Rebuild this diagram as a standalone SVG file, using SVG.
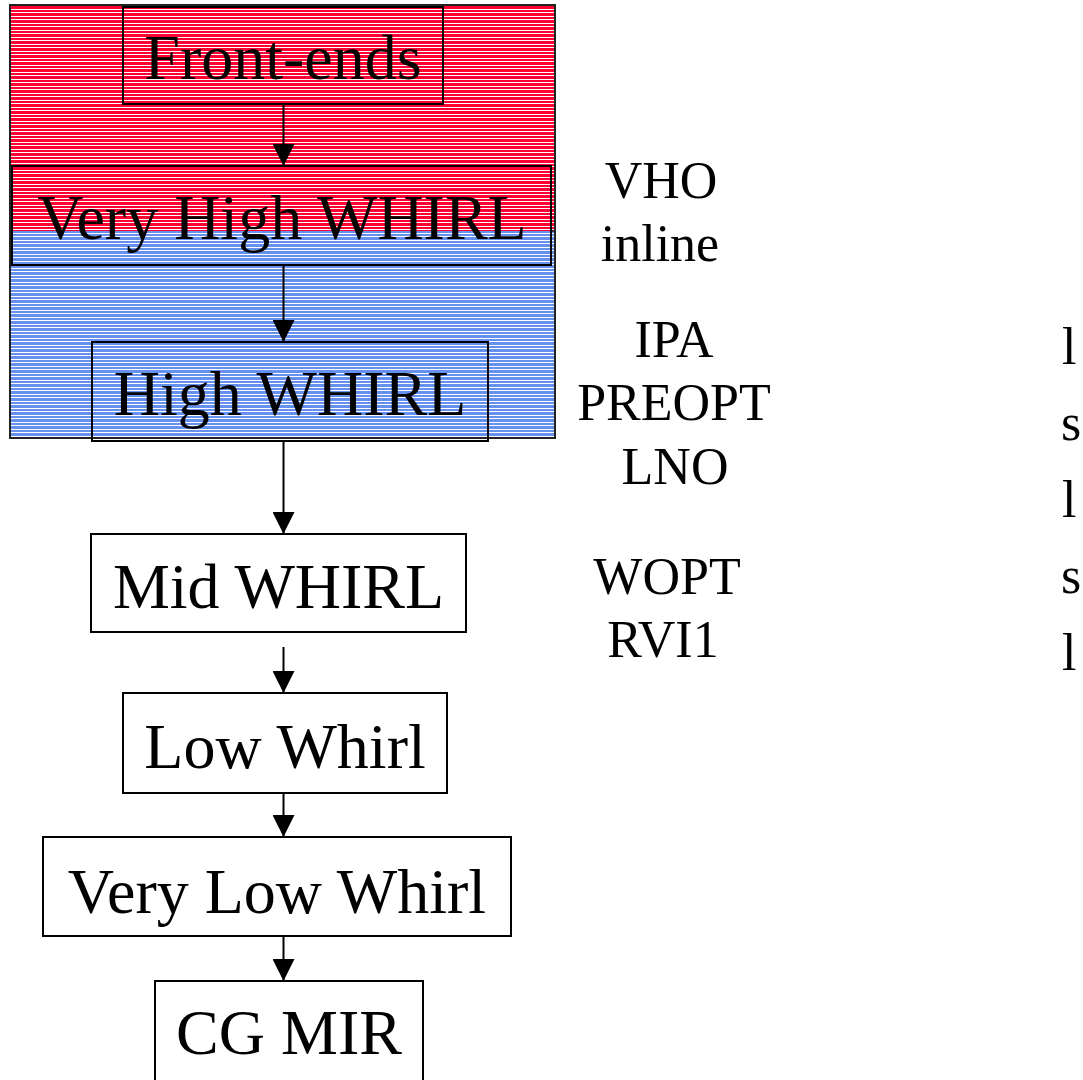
<svg xmlns="http://www.w3.org/2000/svg" width="1083" height="1080" viewBox="0 0 1083 1080">
<style>
.box{fill:none;stroke:#000;stroke-width:2}
.lbl{font-family:"Liberation Serif","Times New Roman",serif;font-size:64px;fill:#000;text-anchor:middle}
.side{font-family:"Liberation Serif","Times New Roman",serif;font-size:52px;fill:#000;text-anchor:middle}
.edge{fill:none;stroke:#000;stroke-width:2;marker-end:url(#arr)}
</style>
<defs>
<pattern id="redStripe" patternUnits="userSpaceOnUse" x="0" y="0" width="20" height="7">
<rect width="20" height="7" fill="#ff0033"/>
<rect y="2" width="20" height="1" fill="#ffffff"/>
<rect y="5" width="20" height="1" fill="#ffffff"/>
</pattern>
<pattern id="blueStripe" patternUnits="userSpaceOnUse" x="0" y="0" width="20" height="7">
<rect width="20" height="7" fill="#6690ee"/>
<rect y="2" width="20" height="1" fill="#ffffff"/>
<rect y="5" width="20" height="1" fill="#ffffff"/>
</pattern>
<marker id="arr" markerUnits="userSpaceOnUse" markerWidth="22" markerHeight="22" refX="22" refY="11" orient="auto">
<path d="M0,0 L22,11 L0,22 Z" fill="#000"/>
</marker>
</defs>
<rect width="1083" height="1080" fill="#fff"/>
<g id="background">
<rect x="10" y="5" width="545" height="226" fill="url(#redStripe)"/>
<rect x="10" y="231" width="545" height="207" fill="url(#blueStripe)"/>
<line x1="551" y1="231" x2="555" y2="231" stroke="#222" stroke-width="1.5"/>
<rect x="10" y="5" width="545" height="433" fill="none" stroke="#222" stroke-width="2"/>
</g>
<g id="connectors">
<line class="edge" x1="283.5" y1="104" x2="283.5" y2="166"/>
<line class="edge" x1="283.5" y1="265" x2="283.5" y2="342"/>
<line class="edge" x1="283.5" y1="441" x2="283.5" y2="534"/>
<line class="edge" x1="283.5" y1="647" x2="283.5" y2="693"/>
<line class="edge" x1="283.5" y1="793" x2="283.5" y2="837"/>
<line class="edge" x1="283.5" y1="936" x2="283.5" y2="981"/>
</g>
<g id="front-ends">
<rect class="box" x="123" y="7" width="320" height="97"/>
<text class="lbl" x="283" y="79">Front-ends</text>
</g>
<g id="very-high-whirl">
<rect class="box" x="12" y="166" width="539" height="99"/>
<text class="lbl" x="282" y="239">Very High WHIRL</text>
</g>
<g id="high-whirl">
<rect class="box" x="92" y="342" width="396" height="99"/>
<text class="lbl" x="290" y="415">High WHIRL</text>
</g>
<g id="mid-whirl">
<rect class="box" x="91" y="534" width="375" height="98"/>
<text class="lbl" x="278.5" y="608">Mid WHIRL</text>
</g>
<g id="low-whirl">
<rect class="box" x="123" y="693" width="324" height="100"/>
<text class="lbl" x="285" y="768">Low Whirl</text>
</g>
<g id="very-low-whirl">
<rect class="box" x="43" y="837" width="468" height="99"/>
<text class="lbl" x="277" y="913">Very Low Whirl</text>
</g>
<g id="cg-mir">
<rect class="box" x="155" y="981" width="268" height="100"/>
<text class="lbl" x="289" y="1054">CG MIR</text>
</g>
<g id="phase-labels">
<text class="side" x="661" y="198">VHO</text>
<text class="side" x="660" y="261">inline</text>
<text class="side" x="674" y="357">IPA</text>
<text class="side" x="674" y="420">PREOPT</text>
<text class="side" x="675" y="484">LNO</text>
<text class="side" x="667" y="594">WOPT</text>
<text class="side" x="663" y="657">RVI1</text>
</g>
<g id="right-letters">
<text class="side" x="1062" y="364" style="text-anchor:start">l</text>
<text class="side" x="1061" y="440" style="text-anchor:start">s</text>
<text class="side" x="1062" y="517" style="text-anchor:start">l</text>
<text class="side" x="1061" y="593" style="text-anchor:start">s</text>
<text class="side" x="1062" y="670" style="text-anchor:start">l</text>
</g>
</svg>
